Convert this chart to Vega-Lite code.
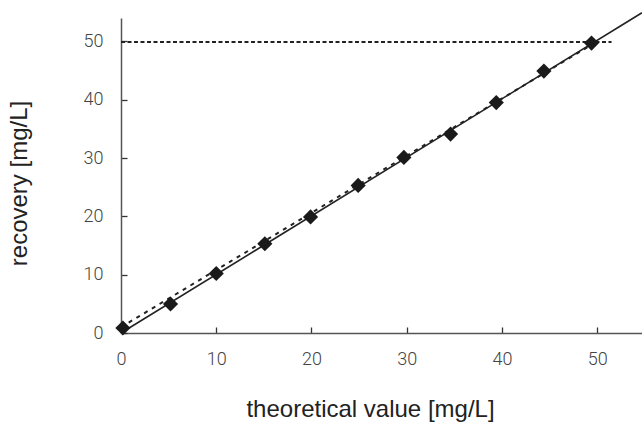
{
  "$schema": "https://vega.github.io/schema/vega-lite/v6.json",
  "autosize": {"type": "none"},
  "padding": {"left": 121, "top": 18, "right": 0, "bottom": 89},
  "width": 521,
  "height": 315,
  "background": "white",
  "config": {
    "view": {"stroke": null},
    "axis": {
      "grid": false,
      "domainColor": "#555",
      "domainWidth": 1.5,
      "tickColor": "#333",
      "tickWidth": 1.3,
      "tickSize": -6,
      "labelFlush": false,
      "labelFont": "Roboto",
      "labelFontWeight": 300,
      "labelFontSize": 18,
      "labelColor": "#444",
      "titleFont": "Liberation Sans",
      "titleFontWeight": "normal",
      "titleFontSize": 24,
      "titleColor": "#222"
    }
  },
  "layer": [
    {
      "data": {"values": [{"x": 0, "y": 0}, {"x": 54.7, "y": 54.9}]},
      "mark": {"type": "line", "color": "#222", "strokeWidth": 1.6},
      "encoding": {
        "x": {"field": "x", "type": "quantitative", "scale": {"domain": [0, 54.7], "nice": false},
          "axis": {"values": [0, 10, 20, 30, 40, 50], "title": "theoretical value [mg/L]", "labelPadding": 23, "titleX": 249, "titleY": 76, "titleBaseline": "middle", "titleAlign": "center"}},
        "y": {"field": "y", "type": "quantitative", "scale": {"domain": [0, 54], "nice": false},
          "axis": {"values": [0, 10, 20, 30, 40, 50], "title": "recovery [mg/L]", "labelPadding": 24, "titleX": -102, "titleY": 165, "titleBaseline": "middle", "titleAlign": "center", "titleAngle": -90}}
      }
    },
    {
      "data": {"values": [{"x": 0, "y": 1.0}, {"x": 50, "y": 50}]},
      "mark": {"type": "line", "color": "#222", "strokeWidth": 2, "strokeDash": [4, 5]},
      "encoding": {
        "x": {"field": "x", "type": "quantitative"},
        "y": {"field": "y", "type": "quantitative"}
      }
    },
    {
      "data": {"values": [{"x": 0, "y": 49.9}, {"x": 51.5, "y": 49.9}]},
      "mark": {"type": "line", "color": "#222", "strokeWidth": 2, "strokeDash": [4, 2.5]},
      "encoding": {
        "x": {"field": "x", "type": "quantitative"},
        "y": {"field": "y", "type": "quantitative"}
      }
    },
    {
      "data": {"values": [
        {"theoretical": 0.2, "recovery": 0.86},
        {"theoretical": 5.2, "recovery": 4.97},
        {"theoretical": 10.0, "recovery": 10.2},
        {"theoretical": 15.1, "recovery": 15.3},
        {"theoretical": 19.9, "recovery": 19.9},
        {"theoretical": 24.9, "recovery": 25.3},
        {"theoretical": 29.7, "recovery": 30.1},
        {"theoretical": 34.6, "recovery": 34.1},
        {"theoretical": 39.4, "recovery": 39.5},
        {"theoretical": 44.4, "recovery": 44.9},
        {"theoretical": 49.4, "recovery": 49.7}
      ]},
      "mark": {"type": "point", "shape": "diamond", "filled": true, "color": "#1a1a1a", "opacity": 1, "size": 230},
      "encoding": {
        "x": {"field": "theoretical", "type": "quantitative"},
        "y": {"field": "recovery", "type": "quantitative"}
      }
    }
  ]
}
